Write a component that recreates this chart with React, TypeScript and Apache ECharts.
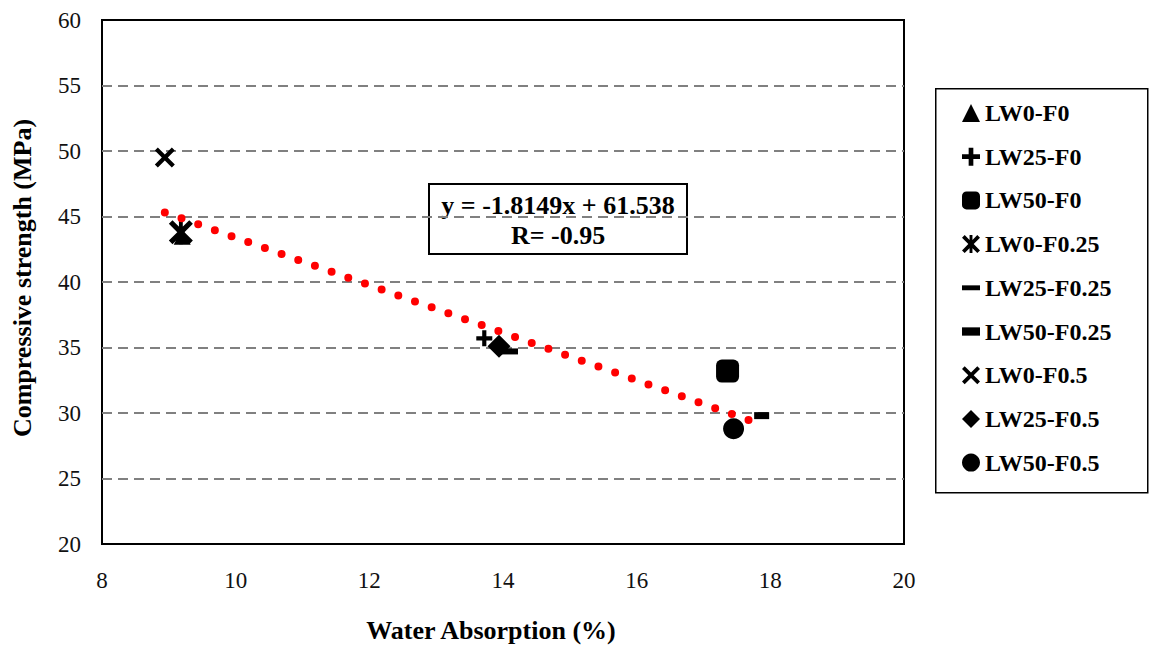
import React, { useEffect, useRef } from "react";
import * as echarts from "echarts";

const seriesNames = [
  "LW0-F0",
  "LW25-F0",
  "LW50-F0",
  "LW0-F0.25",
  "LW25-F0.25",
  "LW50-F0.25",
  "LW0-F0.5",
  "LW25-F0.5",
  "LW50-F0.5",
];
const waterAbsorption = [9.2, 13.72, 17.36, 9.18, 14.06, 17.87, 8.94, 13.94, 17.45];
const compressiveStrength = [43.5, 35.7, 33.2, 43.8, 34.7, 29.8, 49.5, 35.1, 28.8];
const trendX = [8.94, 17.87];
const trendY = [45.31, 29.11];
const xTicks = [8, 10, 12, 14, 16, 18, 20];
const yTicks = [20, 25, 30, 35, 40, 45, 50, 55, 60];
const equationLines = ["y = -1.8149x + 61.538", "R= -0.95"];

const PLUS = "path://M3.7,0H6.3V3.7H10V6.3H6.3V10H3.7V6.3H0V3.7H3.7Z";
const XMARK =
  "path://M0,1.5L1.5,0L5,3.5L8.5,0L10,1.5L6.5,5L10,8.5L8.5,10L5,6.5L1.5,10L0,8.5L3.5,5Z";
const ASTERISK = XMARK + "M4.2,0L5.8,0L5.8,10L4.2,10Z";
const LONGDASH = "path://M0,0H22V6H0Z";
const SHORTDASH = "path://M0,0H13V6H0Z";

const symbols: any[] = [
  { symbol: "triangle", size: 17 },
  { symbol: PLUS, size: 16 },
  { symbol: "roundRect", size: 23 },
  { symbol: ASTERISK, size: 24 },
  { symbol: LONGDASH, size: [22, 6] },
  { symbol: SHORTDASH, size: [15, 7] },
  { symbol: XMARK, size: 20 },
  { symbol: "diamond", size: 23 },
  { symbol: "circle", size: 21 },
];

const SERIF = "Liberation Serif";

export default function App() {
  const ref = useRef<HTMLDivElement>(null);
  useEffect(() => {
    if (!ref.current) return;
    const chart = echarts.init(ref.current, null, { renderer: "svg" });
    const scatterSeries = seriesNames.map((name, i) => ({
      name,
      type: "scatter",
      data: [[waterAbsorption[i], compressiveStrength[i]]],
      symbol: symbols[i].symbol,
      symbolSize: symbols[i].size,
      itemStyle: { color: "#000", opacity: 1 },
      z: 3,
    }));
    chart.setOption({
      animation: false,
      backgroundColor: "#fff",
      textStyle: { fontFamily: SERIF },
      grid: {
        left: 102,
        right: 253,
        top: 20,
        bottom: 101,
        show: true,
        borderColor: "#000",
        borderWidth: 2,
        backgroundColor: "transparent",
      },
      xAxis: {
        type: "value",
        min: xTicks[0],
        max: xTicks[xTicks.length - 1],
        interval: 2,
        name: "Water Absorption (%)",
        nameLocation: "middle",
        nameGap: 73,
        nameTextStyle: {
          fontFamily: SERIF,
          fontWeight: "bold",
          fontSize: 26,
          color: "#000",
          padding: [0, 24, 0, 0],
        },
        axisLine: { show: false },
        axisTick: { show: false },
        splitLine: { show: false },
        axisLabel: { fontFamily: SERIF, fontSize: 23, color: "#111", margin: 25 },
      },
      yAxis: {
        type: "value",
        min: yTicks[0],
        max: yTicks[yTicks.length - 1],
        interval: 5,
        name: "Compressive strength (MPa)",
        nameLocation: "middle",
        nameGap: 67,
        nameTextStyle: {
          fontFamily: SERIF,
          fontWeight: "bold",
          fontSize: 26,
          color: "#000",
          padding: [0, 0, 0, 8],
        },
        axisLine: { show: false },
        axisTick: { show: false },
        splitLine: {
          show: true,
          showMinLine: false,
          showMaxLine: false,
          lineStyle: { color: "#808080", width: 2, type: [10, 6] },
        },
        axisLabel: { fontFamily: SERIF, fontSize: 23, color: "#111", margin: 21 },
      },
      legend: {
        orient: "vertical",
        left: 962,
        top: 101,
        padding: 0,
        itemWidth: 18,
        itemHeight: 18,
        itemGap: 19.7,
        data: seriesNames,
        selectedMode: false,
        textStyle: {
          fontFamily: SERIF,
          fontWeight: "bold",
          fontSize: 24,
          color: "#000",
        },
      },
      graphic: [
        {
          type: "rect",
          left: 935,
          top: 88,
          shape: { x: 0, y: 0, width: 212, height: 404 },
          style: { fill: "transparent", stroke: "#000", lineWidth: 1.5 },
          z: 1,
        },
        {
          type: "group",
          left: 428,
          top: 183,
          z: 20,
          children: [
            {
              type: "rect",
              shape: { x: 0, y: 0, width: 258, height: 70 },
              style: { fill: "#fff", stroke: "#000", lineWidth: 2 },
            },
            {
              type: "text",
              x: 129,
              y: 21,
              style: {
                text: equationLines[0],
                fontFamily: SERIF,
                fontWeight: "bold",
                fontSize: 26,
                fill: "#000",
                align: "center",
                verticalAlign: "middle",
              },
            },
            {
              type: "text",
              x: 129,
              y: 51,
              style: {
                text: equationLines[1],
                fontFamily: SERIF,
                fontWeight: "bold",
                fontSize: 26,
                fill: "#000",
                align: "center",
                verticalAlign: "middle",
              },
            },
          ],
        },
      ],
      series: [
        ...scatterSeries,
        {
          name: "trend",
          type: "line",
          data: trendX.map((x, i) => [x, trendY[i]]),
          showSymbol: false,
          symbol: "none",
          z: 10,
          lineStyle: { color: "#ff0000", width: 8, type: [0, 17.7], cap: "round" },
        },
      ],
    });
    return () => chart.dispose();
  }, []);
  return <div ref={ref} style={{ width: 1157, height: 648, position: "absolute", left: 0, top: 0 }} />;
}
